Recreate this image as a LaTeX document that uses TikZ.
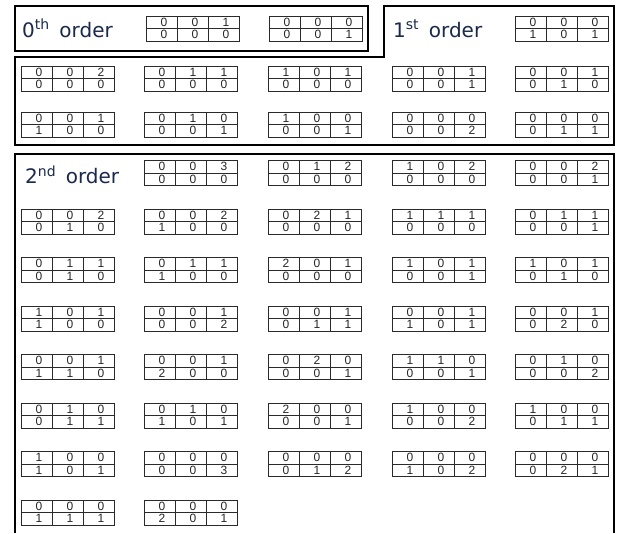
\documentclass[tikz,border=0pt]{standalone}
\usepackage{fontspec}
\setmainfont{Liberation Sans}
\newfontfamily\lblfont{DejaVu Sans}
\definecolor{lblcol}{HTML}{1B2A4A}
\definecolor{gridcol}{HTML}{2A2A2A}
\tikzset{
  frame/.style={draw=black,line width=2.6pt,line join=miter},
  gridline/.style={draw=gridcol,line width=1pt},
  digit/.style={inner sep=0pt,font=\fontsize{12}{12}\selectfont,text=black!85},
  orderlbl/.style={inner sep=0pt,anchor=west,text=lblcol,font=\lblfont\fontsize{20}{20}\selectfont}
}
% #1 x left, #2 y centre, #3-#8 digits
\newcommand\mygrid[8]{%
  \begin{scope}[shift={(#1,#2)}]
    \draw[gridline] (0,-12.5) rectangle (93,12.5);
    \draw[gridline] (0,0) -- (93,0) (31,-12.5) -- (31,12.5) (62,-12.5) -- (62,12.5);
    \node[digit] at (18,-6.25) {#3};
    \node[digit] at (49,-6.25) {#4};
    \node[digit] at (80,-6.25) {#5};
    \node[digit] at (18,6.25) {#6};
    \node[digit] at (49,6.25) {#7};
    \node[digit] at (80,6.25) {#8};
  \end{scope}}
\begin{document}
\begin{tikzpicture}[x=1pt,y=-1pt]
\useasboundingbox[fill=white] (0,0) rectangle (624,533);
% frames
\draw[frame] (15,6) rectangle (368,51);
\draw[frame] (384,6) -- (614,6) -- (614,145) -- (15,145) -- (15,57) -- (384,57) -- cycle;
\draw[frame] (15,533) -- (15,154) -- (614,154) -- (614,533);
% labels
\node[orderlbl] (l0) at (22,28.5) {0\textsuperscript{th}\, order};
\node[orderlbl] (l1) at (393,28.5) {1\textsuperscript{st}\, order};
\node[orderlbl] (l2) at (25,175) {2\textsuperscript{nd}\, order};
% 0th order
\mygrid{146}{28.5}{0}{0}{1}{0}{0}{0}
\mygrid{269}{28.5}{0}{0}{0}{0}{0}{1}
% 1st order
\mygrid{515}{28.5}{0}{0}{0}{1}{0}{1}
\mygrid{21}{78.5}{0}{0}{2}{0}{0}{0}
\mygrid{144}{78.5}{0}{1}{1}{0}{0}{0}
\mygrid{268}{78.5}{1}{0}{1}{0}{0}{0}
\mygrid{392}{78.5}{0}{0}{1}{0}{0}{1}
\mygrid{515}{78.5}{0}{0}{1}{0}{1}{0}
\mygrid{21}{124.5}{0}{0}{1}{1}{0}{0}
\mygrid{144}{124.5}{0}{1}{0}{0}{0}{1}
\mygrid{268}{124.5}{1}{0}{0}{0}{0}{1}
\mygrid{392}{124.5}{0}{0}{0}{0}{0}{2}
\mygrid{515}{124.5}{0}{0}{0}{0}{1}{1}
% 2nd order row 1
\mygrid{144}{173}{0}{0}{3}{0}{0}{0}
\mygrid{268}{173}{0}{1}{2}{0}{0}{0}
\mygrid{392}{173}{1}{0}{2}{0}{0}{0}
\mygrid{515}{173}{0}{0}{2}{0}{0}{1}
% row 2
\mygrid{21}{221.5}{0}{0}{2}{0}{1}{0}
\mygrid{144}{221.5}{0}{0}{2}{1}{0}{0}
\mygrid{268}{221.5}{0}{2}{1}{0}{0}{0}
\mygrid{392}{221.5}{1}{1}{1}{0}{0}{0}
\mygrid{515}{221.5}{0}{1}{1}{0}{0}{1}
% row 3
\mygrid{21}{270}{0}{1}{1}{0}{1}{0}
\mygrid{144}{270}{0}{1}{1}{1}{0}{0}
\mygrid{268}{270}{2}{0}{1}{0}{0}{0}
\mygrid{392}{270}{1}{0}{1}{0}{0}{1}
\mygrid{515}{270}{1}{0}{1}{0}{1}{0}
% row 4
\mygrid{21}{318.5}{1}{0}{1}{1}{0}{0}
\mygrid{144}{318.5}{0}{0}{1}{0}{0}{2}
\mygrid{268}{318.5}{0}{0}{1}{0}{1}{1}
\mygrid{392}{318.5}{0}{0}{1}{1}{0}{1}
\mygrid{515}{318.5}{0}{0}{1}{0}{2}{0}
% row 5
\mygrid{21}{367}{0}{0}{1}{1}{1}{0}
\mygrid{144}{367}{0}{0}{1}{2}{0}{0}
\mygrid{268}{367}{0}{2}{0}{0}{0}{1}
\mygrid{392}{367}{1}{1}{0}{0}{0}{1}
\mygrid{515}{367}{0}{1}{0}{0}{0}{2}
% row 6
\mygrid{21}{415.5}{0}{1}{0}{0}{1}{1}
\mygrid{144}{415.5}{0}{1}{0}{1}{0}{1}
\mygrid{268}{415.5}{2}{0}{0}{0}{0}{1}
\mygrid{392}{415.5}{1}{0}{0}{0}{0}{2}
\mygrid{515}{415.5}{1}{0}{0}{0}{1}{1}
% row 7
\mygrid{21}{464}{1}{0}{0}{1}{0}{1}
\mygrid{144}{464}{0}{0}{0}{0}{0}{3}
\mygrid{268}{464}{0}{0}{0}{0}{1}{2}
\mygrid{392}{464}{0}{0}{0}{1}{0}{2}
\mygrid{515}{464}{0}{0}{0}{0}{2}{1}
% row 8
\mygrid{21}{512.5}{0}{0}{0}{1}{1}{1}
\mygrid{144}{512.5}{0}{0}{0}{2}{0}{1}
\end{tikzpicture}
\end{document}
